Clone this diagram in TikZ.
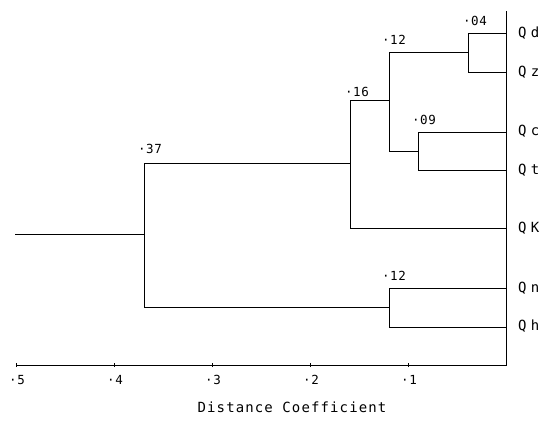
\documentclass[tikz,border=0pt]{standalone}
\usepackage{fontspec}
\setmainfont{DejaVu Sans Mono}
\newfontfamily\leaffont[LetterSpace=30]{DejaVu Sans Mono}
\newfontfamily\valfont[LetterSpace=5]{DejaVu Sans Mono}
\newfontfamily\titlefont[LetterSpace=8]{DejaVu Sans Mono}
\begin{document}
\begin{tikzpicture}[x=1pt,y=-1pt,
  tree/.style={line width=0.9pt,black},
  leaflabel/.style={anchor=west,inner sep=0pt,font=\leaffont\fontsize{14}{14}\selectfont},
  vallabel/.style={inner sep=0pt,font=\valfont\fontsize{12.5}{12.5}\selectfont},
  ticklabel/.style={inner sep=0pt,font=\valfont\fontsize{12.5}{12.5}\selectfont},
  axistitle/.style={inner sep=0pt,font=\titlefont\fontsize{14}{14}\selectfont}]
\useasboundingbox (0,0) rectangle (545,420);
% leaves
\coordinate (Qd) at (506,33);
\coordinate (Qz) at (506,72);
\coordinate (Qc) at (506,132);
\coordinate (Qt) at (506,170);
\coordinate (QK) at (506,228);
\coordinate (Qn) at (506,288);
\coordinate (Qh) at (506,327);
% internal joins
\coordinate (n04) at (468,52.5);
\coordinate (n09) at (418,151);
\coordinate (n12a) at (389,100);
\coordinate (n16) at (350,163);
\coordinate (n12b) at (389,307.5);
\coordinate (n37) at (144,234);
\coordinate (root) at (15,234);
% axis
\coordinate (top) at (506,11);
\coordinate (ax0) at (506,365);
\coordinate (ax5) at (16,365);
\draw[tree] (ax5) -- (ax0) -- (top);
\foreach \x/\l in {16/5,114/4,212/3,310/2,408/1}{
  \coordinate (t\l) at (\x,365);
  \draw[tree] ([yshift=-2pt]t\l) -- ([yshift=2pt]t\l);
  \node[ticklabel] (tl\l) at (\x+1,380) {·\l};
}
\node[axistitle] (title) at (292,407) {Distance Coefficient};
% tree
\draw[tree] (n04) |- (Qd);
\draw[tree] (n04) |- (Qz);
\draw[tree] (n09) |- (Qc);
\draw[tree] (n09) |- (Qt);
\draw[tree] (n12a) |- (n04);
\draw[tree] (n12a) |- (n09);
\draw[tree] (n16) |- (n12a);
\draw[tree] (n16) |- (QK);
\draw[tree] (n12b) |- (Qn);
\draw[tree] (n12b) |- (Qh);
\draw[tree] (n37) |- (n16);
\draw[tree] (n37) |- (n12b);
\draw[tree] (root) -- (n37);
% values
\node[vallabel] (v04) at (475,21) {·04};
\node[vallabel] (v12a) at (394,40) {·12};
\node[vallabel] (v09) at (424,120) {·09};
\node[vallabel] (v16) at (357,92) {·16};
\node[vallabel] (v37) at (150,149) {·37};
\node[vallabel] (v12b) at (394,276) {·12};
% leaf labels
\node[leaflabel] (lQd) at (518,33) {Qd};
\node[leaflabel] (lQz) at (518,72) {Qz};
\node[leaflabel] (lQc) at (518,131) {Qc};
\node[leaflabel] (lQt) at (518,170) {Qt};
\node[leaflabel] (lQK) at (518,228) {QK};
\node[leaflabel] (lQn) at (518,288) {Qn};
\node[leaflabel] (lQh) at (518,326) {Qh};
\end{tikzpicture}
\end{document}
